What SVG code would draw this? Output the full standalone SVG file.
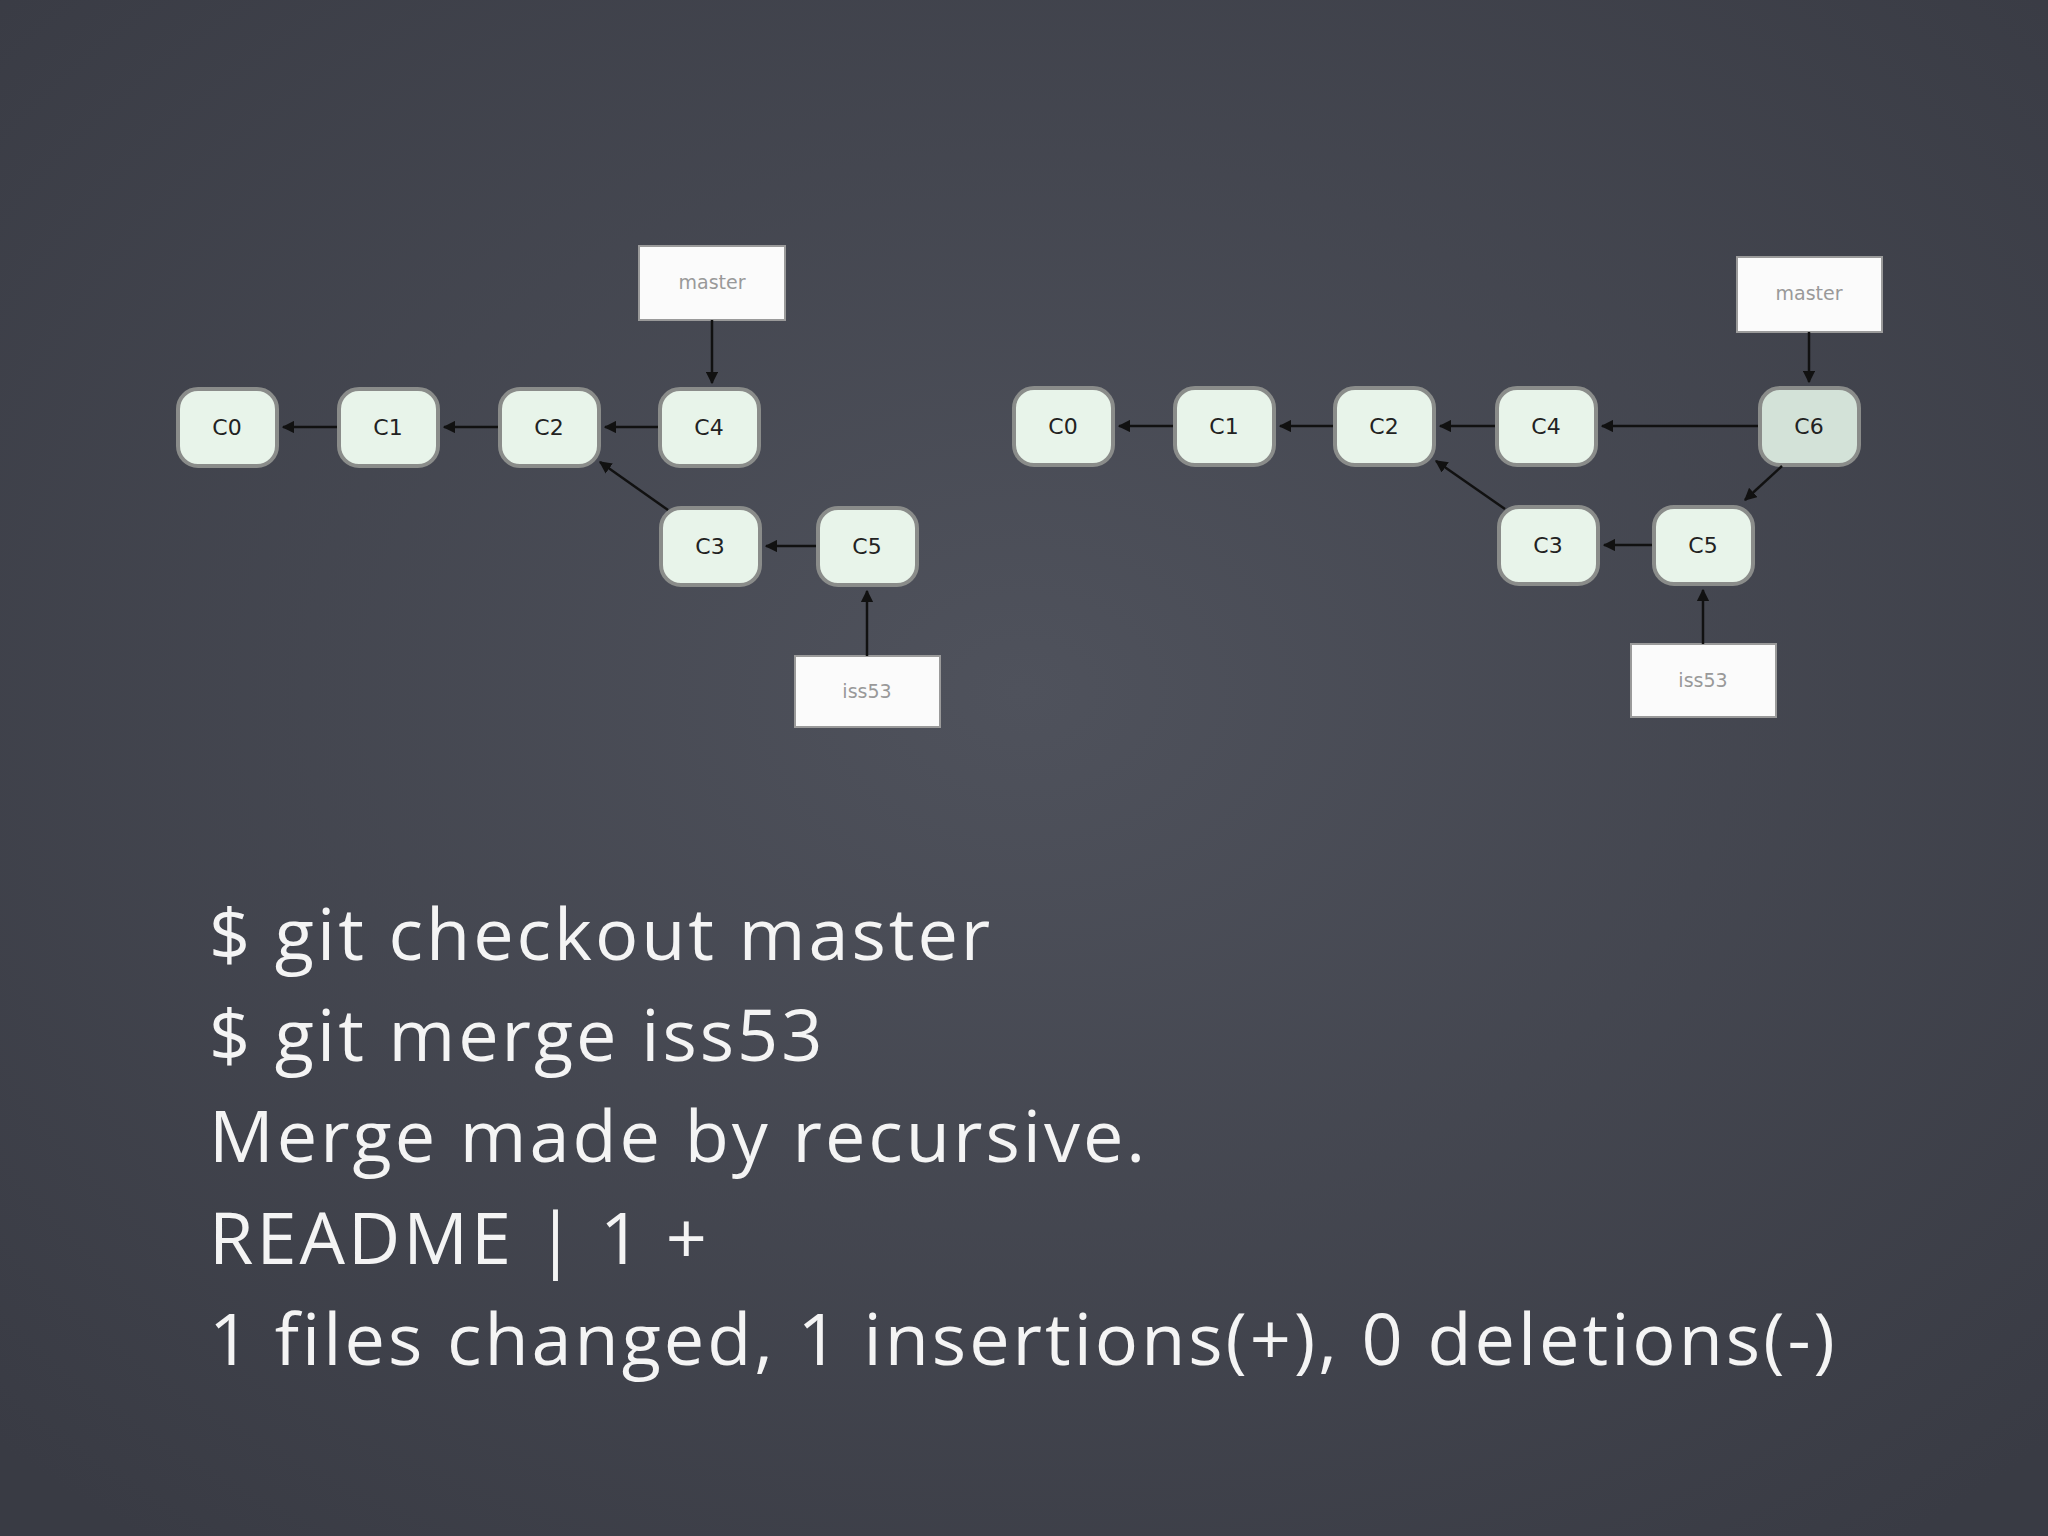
<svg xmlns="http://www.w3.org/2000/svg" width="2048" height="1536" viewBox="0 0 2048 1536">
<defs>
<radialGradient id="bg" cx="50%" cy="45%" r="70%"><stop offset="0" stop-color="#4f525c"/><stop offset="1" stop-color="#393b44"/></radialGradient>
<marker id="ah" viewBox="0 0 10 10" refX="9" refY="5" markerWidth="5" markerHeight="5" orient="auto"><path d="M0,0 L10,5 L0,10 z" fill="#111"/></marker>
<style>
.n rect{fill:#e8f4ea;stroke:#8a8c8a;stroke-width:4}
.n6 rect{fill:#d3e2d8}
.n text{font-family:"DejaVu Sans",sans-serif;font-size:22px;fill:#222;text-anchor:middle}
.b rect{fill:#fbfbfb;stroke:#9a9a9a;stroke-width:2}
.b text{font-family:"DejaVu Sans",sans-serif;font-size:19px;fill:#999;text-anchor:middle}
#conn line{stroke:#111;stroke-width:2.5;marker-end:url(#ah)}
.t{font-family:"Open Sans",sans-serif;font-size:72px;letter-spacing:3px;fill:#f4f4f4}
</style>
</defs>
<rect width="2048" height="1536" fill="url(#bg)"/>
<g id="L-C0" class="n"><rect x="178" y="389" width="99" height="77" rx="20"/><text x="227" y="435">C0</text></g>
<g id="L-C1" class="n"><rect x="339" y="389" width="99" height="77" rx="20"/><text x="388" y="435">C1</text></g>
<g id="L-C2" class="n"><rect x="500" y="389" width="99" height="77" rx="20"/><text x="549" y="435">C2</text></g>
<g id="L-C4" class="n"><rect x="660" y="389" width="99" height="77" rx="20"/><text x="709" y="435">C4</text></g>
<g id="L-C3" class="n"><rect x="661" y="508" width="99" height="77" rx="20"/><text x="710" y="554">C3</text></g>
<g id="L-C5" class="n"><rect x="818" y="508" width="99" height="77" rx="20"/><text x="867" y="554">C5</text></g>
<g id="L-master" class="b"><rect x="639" y="246" width="146" height="74"/><text x="712" y="289">master</text></g>
<g id="L-iss53" class="b"><rect x="795" y="656" width="145" height="71"/><text x="867" y="698">iss53</text></g>
<g id="R-C0" class="n"><rect x="1014" y="388" width="99" height="77" rx="20"/><text x="1063" y="434">C0</text></g>
<g id="R-C1" class="n"><rect x="1175" y="388" width="99" height="77" rx="20"/><text x="1224" y="434">C1</text></g>
<g id="R-C2" class="n"><rect x="1335" y="388" width="99" height="77" rx="20"/><text x="1384" y="434">C2</text></g>
<g id="R-C4" class="n"><rect x="1497" y="388" width="99" height="77" rx="20"/><text x="1546" y="434">C4</text></g>
<g id="R-C6" class="n n6"><rect x="1760" y="388" width="99" height="77" rx="20"/><text x="1809" y="434">C6</text></g>
<g id="R-C3" class="n"><rect x="1499" y="507" width="99" height="77" rx="20"/><text x="1548" y="553">C3</text></g>
<g id="R-C5" class="n"><rect x="1654" y="507" width="99" height="77" rx="20"/><text x="1703" y="553">C5</text></g>
<g id="R-master" class="b"><rect x="1737" y="257" width="145" height="75"/><text x="1809" y="300">master</text></g>
<g id="R-iss53" class="b"><rect x="1631" y="644" width="145" height="73"/><text x="1703" y="687">iss53</text></g>
<g id="conn">
<line x1="337" y1="427" x2="283" y2="427"/>
<line x1="498" y1="427" x2="444" y2="427"/>
<line x1="658" y1="427" x2="605" y2="427"/>
<line x1="712" y1="320" x2="712" y2="383"/>
<line x1="668" y1="510" x2="600" y2="462"/>
<line x1="816" y1="546" x2="766" y2="546"/>
<line x1="867" y1="656" x2="867" y2="591"/>
<line x1="1173" y1="426" x2="1119" y2="426"/>
<line x1="1333" y1="426" x2="1280" y2="426"/>
<line x1="1495" y1="426" x2="1440" y2="426"/>
<line x1="1758" y1="426" x2="1602" y2="426"/>
<line x1="1809" y1="332" x2="1809" y2="382"/>
<line x1="1782" y1="466" x2="1745" y2="500"/>
<line x1="1505" y1="509" x2="1436" y2="461"/>
<line x1="1652" y1="545" x2="1604" y2="545"/>
<line x1="1703" y1="644" x2="1703" y2="590"/>
</g>
<text class="t" x="209" y="960">$ git checkout master</text>
<text class="t" x="209" y="1061">$ git merge iss53</text>
<text class="t" x="209" y="1162">Merge made by recursive.</text>
<text class="t" x="209" y="1264">README | 1 +</text>
<text class="t" x="209" y="1365">1 files changed, 1 insertions(+), 0 deletions(-)</text>
</svg>
